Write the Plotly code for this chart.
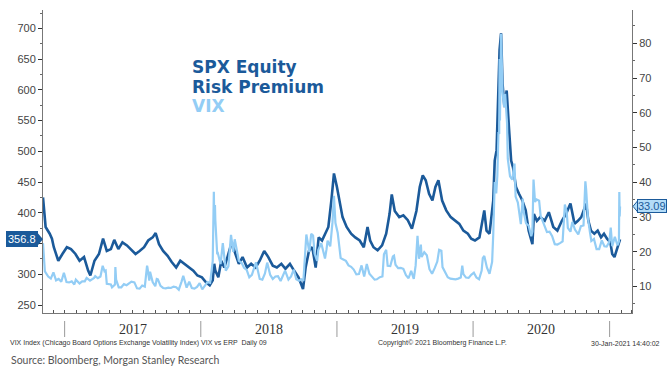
import plotly.graph_objects as go

# ---------------- DATA ----------------
erp_dates = [
    "2016-11-04", "2016-11-11", "2016-11-22", "2016-11-28", "2016-12-03", "2016-12-15", "2016-12-26",
    "2017-01-07", "2017-01-18", "2017-01-30", "2017-02-10", "2017-02-22", "2017-03-05", "2017-03-11",
    "2017-03-22", "2017-04-03", "2017-04-14", "2017-04-24", "2017-05-05", "2017-05-14", "2017-05-25",
    "2017-06-05", "2017-06-17", "2017-06-28", "2017-07-10", "2017-07-21", "2017-08-02", "2017-08-13",
    "2017-08-25", "2017-09-02", "2017-09-11", "2017-09-22", "2017-10-04", "2017-10-15", "2017-10-27",
    "2017-11-07", "2017-11-19", "2017-11-30", "2017-12-12", "2017-12-23", "2018-01-04", "2018-01-15",
    "2018-01-25", "2018-02-02", "2018-02-06", "2018-02-09", "2018-02-17", "2018-02-25", "2018-03-05",
    "2018-03-16", "2018-03-25", "2018-04-04", "2018-04-13", "2018-04-23", "2018-05-05", "2018-05-16",
    "2018-05-28", "2018-06-08", "2018-06-20", "2018-07-01", "2018-07-13", "2018-07-24", "2018-08-05",
    "2018-08-16", "2018-08-28", "2018-09-08", "2018-09-20", "2018-10-02", "2018-10-09", "2018-10-18",
    "2018-10-27", "2018-11-05", "2018-11-13", "2018-11-22", "2018-12-01", "2018-12-09", "2018-12-17",
    "2018-12-24", "2019-01-01", "2019-01-07", "2019-01-16", "2019-01-27", "2019-02-08", "2019-02-19",
    "2019-03-03", "2019-03-14", "2019-03-24", "2019-03-31", "2019-04-09", "2019-04-20", "2019-05-02",
    "2019-05-13", "2019-05-22", "2019-05-28", "2019-06-05", "2019-06-17", "2019-06-28", "2019-07-10",
    "2019-07-21", "2019-08-02", "2019-08-11", "2019-08-19", "2019-08-27", "2019-09-05", "2019-09-14",
    "2019-09-22", "2019-09-30", "2019-10-10", "2019-10-21", "2019-11-02", "2019-11-13", "2019-11-25",
    "2019-12-06", "2019-12-18", "2019-12-27", "2020-01-06", "2020-01-18", "2020-01-31", "2020-02-06",
    "2020-02-14", "2020-02-24", "2020-02-28", "2020-03-04", "2020-03-09", "2020-03-12", "2020-03-16",
    "2020-03-20", "2020-03-25", "2020-03-31", "2020-04-06", "2020-04-12", "2020-04-17", "2020-04-25",
    "2020-05-03", "2020-05-12", "2020-05-21", "2020-05-29", "2020-06-08", "2020-06-12", "2020-06-20",
    "2020-06-29", "2020-07-11", "2020-07-22", "2020-08-03", "2020-08-14", "2020-08-26", "2020-09-06",
    "2020-09-18", "2020-09-29", "2020-10-08", "2020-10-17", "2020-10-30", "2020-11-05", "2020-11-12",
    "2020-11-21", "2020-11-30", "2020-12-09", "2020-12-17", "2020-12-25", "2021-01-03", "2021-01-08",
    "2021-01-14", "2021-01-20", "2021-01-26", "2021-01-29",
]
erp_vals = [
    425, 377, 366, 358, 344, 322, 333,
    344, 341, 333, 322, 328, 306, 298,
    322, 333, 358, 338, 341, 356, 341,
    352, 347, 341, 333, 338, 344, 355,
    360, 367, 349, 338, 330, 320, 311,
    322, 317, 311, 306, 298, 295, 287,
    282, 290, 317, 306, 295, 322, 311,
    333, 352, 333, 317, 328, 311, 317,
    311, 322, 338, 328, 314, 311, 317,
    309, 317, 306, 295, 276, 311, 338,
    344, 311, 360, 355, 366, 377, 420,
    464, 442, 420, 393, 377, 366, 360,
    355, 344, 377, 355, 344, 339, 347,
    366, 398, 430, 403, 393, 396, 388,
    374, 403, 442, 461, 453, 431, 420,
    442, 453, 420, 404, 393, 387, 382,
    371, 366, 358, 355, 360, 404, 371,
    366, 420, 485, 502, 594, 665, 692,
    610, 572, 599, 540, 485, 474, 442,
    431, 420, 404, 371, 349, 398, 387,
    393, 387, 401, 377, 371, 387, 398,
    415, 382, 387, 393, 415, 387, 371,
    366, 371, 360, 366, 358, 352, 333,
    328, 339, 348, 356.8,
]

vix_dates = [
    "2016-11-04", "2016-11-07", "2016-11-09", "2016-11-18", "2016-11-25", "2016-12-02", "2016-12-09",
    "2016-12-16", "2016-12-23", "2016-12-30", "2017-01-06", "2017-01-13", "2017-01-20", "2017-01-27",
    "2017-01-31", "2017-02-10", "2017-02-17", "2017-02-24", "2017-03-01", "2017-03-10", "2017-03-21",
    "2017-03-24", "2017-03-31", "2017-04-07", "2017-04-13", "2017-04-18", "2017-04-21", "2017-04-24",
    "2017-05-05", "2017-05-08", "2017-05-16", "2017-05-17", "2017-05-19", "2017-05-26", "2017-06-02",
    "2017-06-09", "2017-06-16", "2017-06-29", "2017-07-07", "2017-07-14", "2017-07-21", "2017-07-28",
    "2017-08-04", "2017-08-10", "2017-08-11", "2017-08-16", "2017-08-18", "2017-08-25", "2017-09-01",
    "2017-09-05", "2017-09-08", "2017-09-15", "2017-09-22", "2017-09-29", "2017-10-06", "2017-10-13",
    "2017-10-20", "2017-10-27", "2017-11-03", "2017-11-10", "2017-11-15", "2017-11-24", "2017-12-01",
    "2017-12-08", "2017-12-15", "2017-12-22", "2017-12-29", "2018-01-05", "2018-01-12", "2018-01-19",
    "2018-01-26", "2018-02-02", "2018-02-05", "2018-02-06", "2018-02-08", "2018-02-09", "2018-02-14",
    "2018-02-16", "2018-02-23", "2018-03-01", "2018-03-09", "2018-03-16", "2018-03-23", "2018-03-29",
    "2018-04-02", "2018-04-06", "2018-04-13", "2018-04-20", "2018-04-27", "2018-05-04", "2018-05-11",
    "2018-05-18", "2018-05-29", "2018-06-08", "2018-06-15", "2018-06-22", "2018-06-28", "2018-07-06",
    "2018-07-13", "2018-07-20", "2018-07-27", "2018-08-03", "2018-08-10", "2018-08-15", "2018-08-24",
    "2018-08-31", "2018-09-07", "2018-09-14", "2018-09-21", "2018-09-28", "2018-10-03", "2018-10-10",
    "2018-10-11", "2018-10-19", "2018-10-24", "2018-10-29", "2018-11-02", "2018-11-09", "2018-11-12",
    "2018-11-20", "2018-11-30", "2018-12-04", "2018-12-07", "2018-12-14", "2018-12-20", "2018-12-24",
    "2018-12-28", "2019-01-03", "2019-01-11", "2019-01-18", "2019-01-25", "2019-02-01", "2019-02-08",
    "2019-02-15", "2019-02-22", "2019-03-01", "2019-03-08", "2019-03-15", "2019-03-22", "2019-03-29",
    "2019-04-05", "2019-04-12", "2019-04-18", "2019-04-26", "2019-05-03", "2019-05-07", "2019-05-13",
    "2019-05-17", "2019-05-24", "2019-05-31", "2019-06-03", "2019-06-07", "2019-06-14", "2019-06-21",
    "2019-06-28", "2019-07-05", "2019-07-12", "2019-07-19", "2019-07-26", "2019-07-31", "2019-08-05",
    "2019-08-09", "2019-08-14", "2019-08-16", "2019-08-23", "2019-08-30", "2019-09-06", "2019-09-13",
    "2019-09-20", "2019-09-27", "2019-10-02", "2019-10-08", "2019-10-11", "2019-10-18", "2019-10-25",
    "2019-11-01", "2019-11-08", "2019-11-15", "2019-11-22", "2019-11-29", "2019-12-03", "2019-12-06",
    "2019-12-13", "2019-12-20", "2019-12-27", "2019-12-31", "2020-01-03", "2020-01-10", "2020-01-17",
    "2020-01-24", "2020-01-27", "2020-01-31", "2020-02-07", "2020-02-14", "2020-02-21", "2020-02-24",
    "2020-02-25", "2020-02-27", "2020-02-28", "2020-03-03", "2020-03-06", "2020-03-09", "2020-03-11",
    "2020-03-12", "2020-03-13", "2020-03-16", "2020-03-18", "2020-03-20", "2020-03-24", "2020-03-27",
    "2020-04-01", "2020-04-03", "2020-04-09", "2020-04-15", "2020-04-21", "2020-04-24", "2020-04-30",
    "2020-05-08", "2020-05-13", "2020-05-15", "2020-05-22", "2020-05-29", "2020-06-05", "2020-06-08",
    "2020-06-11", "2020-06-15", "2020-06-19", "2020-06-26", "2020-06-30", "2020-07-10", "2020-07-17",
    "2020-07-24", "2020-07-31", "2020-08-07", "2020-08-14", "2020-08-21", "2020-08-28", "2020-09-03",
    "2020-09-08", "2020-09-11", "2020-09-18", "2020-09-23", "2020-09-30", "2020-10-09", "2020-10-16",
    "2020-10-23", "2020-10-28", "2020-10-30", "2020-11-04", "2020-11-09", "2020-11-13", "2020-11-20",
    "2020-11-27", "2020-12-04", "2020-12-11", "2020-12-18", "2020-12-24", "2020-12-31", "2021-01-04",
    "2021-01-08", "2021-01-15", "2021-01-22", "2021-01-26", "2021-01-27", "2021-01-28", "2021-01-29",
]
vix_vals = [
    22.5, 18.7, 14.4, 12.9, 12.3, 14.1, 11.8,
    12.2, 11.4, 14.0, 11.3, 11.2, 11.5, 10.6,
    12.0, 10.9, 11.5, 11.5, 12.5, 11.7, 12.5,
    13.0, 12.4, 12.9, 16.0, 14.4, 14.6, 10.8,
    10.6, 9.8, 10.6, 15.6, 12.0, 9.8, 9.8,
    10.7, 10.4, 11.4, 11.2, 9.5, 9.4, 10.3,
    10.0, 16.0, 15.5, 11.7, 14.3, 11.3, 10.1,
    12.2, 12.1, 10.2, 9.6, 9.5, 9.7, 9.6,
    10.0, 9.8, 9.1, 11.3, 13.1, 9.7, 11.4,
    9.6, 9.4, 9.9, 11.0, 9.2, 10.2, 11.3,
    11.1, 17.3, 37.3, 30.0, 33.5, 29.1, 19.3,
    19.5, 16.5, 22.5, 14.6, 15.8, 24.9, 20.0,
    23.6, 21.5, 17.4, 16.9, 15.4, 14.8, 12.7,
    13.4, 17.0, 12.2, 12.0, 13.8, 16.9, 13.4,
    12.2, 12.9, 13.0, 11.6, 13.2, 14.6, 12.0,
    12.9, 14.9, 12.1, 11.7, 12.1, 11.6, 23.0,
    25.0, 19.9, 25.2, 24.7, 19.5, 17.4, 20.5,
    22.5, 18.1, 20.7, 23.2, 21.6, 28.4, 36.1,
    28.3, 25.5, 18.2, 17.8, 17.4, 16.1, 15.7,
    14.9, 13.5, 13.6, 16.1, 12.9, 16.5, 13.7,
    12.8, 12.0, 12.1, 12.7, 12.9, 19.3, 20.6,
    16.0, 15.9, 18.7, 18.9, 16.3, 15.3, 15.4,
    15.1, 13.3, 12.4, 14.5, 12.2, 16.1, 24.6,
    18.0, 22.1, 18.5, 19.9, 19.0, 15.0, 13.7,
    15.3, 17.2, 20.6, 20.3, 15.6, 14.3, 12.7,
    12.3, 12.1, 12.1, 12.3, 12.6, 16.0, 13.6,
    12.6, 12.5, 13.4, 13.8, 14.0, 12.6, 12.1,
    14.6, 18.2, 18.8, 15.5, 13.7, 17.1, 25.0,
    27.9, 39.2, 40.1, 36.8, 41.9, 54.5, 53.9,
    75.5, 57.8, 82.7, 76.5, 66.0, 61.7, 65.5,
    57.1, 46.8, 41.7, 40.8, 45.4, 35.9, 34.2,
    28.0, 35.3, 31.9, 28.2, 27.5, 24.5, 25.8,
    40.8, 34.4, 35.1, 34.7, 30.4, 27.3, 25.7,
    25.8, 24.5, 22.2, 22.1, 22.5, 23.0, 33.6,
    31.5, 26.9, 25.8, 28.6, 26.4, 25.0, 27.4,
    27.6, 40.3, 38.0, 29.6, 25.8, 23.1, 23.7,
    20.8, 20.8, 23.3, 21.6, 21.5, 22.8, 27.0,
    21.6, 24.3, 21.9, 23.0, 37.2, 30.2, 33.09,
]

year_labels = ["2017", "2018", "2019", "2020"]
year_centers = ["2017-07-02", "2018-07-02", "2019-07-02", "2020-07-02"]
year_bounds = ["2017-01-01", "2018-01-01", "2019-01-01", "2020-01-01", "2021-01-01"]

left_ticks = [250, 300, 350, 400, 450, 500, 550, 600, 650, 700]
left_ticktext = ["250", "300", "", "400", "450", "500", "550", "600", "650", "700"]  # 350 hidden under value box
right_ticks = [10, 20, 30, 40, 50, 60, 70, 80]

# ---------------- STYLE ----------------
DARK = "#1b5a9a"
LIGHT = "#93cdf5"
FONT = "Liberation Sans"

fig = go.Figure()
fig.add_trace(go.Scatter(x=vix_dates, y=vix_vals, yaxis="y2", mode="lines",
                         line=dict(color=LIGHT, width=2.2), name="VIX", showlegend=False))
fig.add_trace(go.Scatter(x=erp_dates, y=erp_vals, yaxis="y", mode="lines",
                         line=dict(color=DARK, width=2.6), name="SPX Equity Risk Premium",
                         showlegend=False))

W, H = 670, 371
ml, mr, mt, mb = 43, 38, 10, 58
pw = W - ml - mr
ph = H - mt - mb
Y_RANGE = [237, 730]
Y2_RANGE = [2.4, 89.6]

def px_x(p):
    return (p - ml) / pw

def px_y(p):
    return (H - mb - p) / ph

annotations = []
# titles
for txt, yy, col in [("<b>SPX Equity</b>", 67, DARK), ("<b>Risk Premium</b>", 87, DARK),
                     ("<b>VIX</b>", 106, LIGHT)]:
    annotations.append(dict(text=txt, xref="paper", yref="paper",
                            x=px_x(190), y=px_y(yy), xanchor="left", yanchor="middle",
                            showarrow=False, font=dict(family="DejaVu Sans", size=17, color=col)))
# year labels
for lab, c in zip(year_labels, year_centers):
    annotations.append(dict(text=lab, xref="x", yref="paper", x=c, y=px_y(330),
                            xanchor="center", yanchor="middle", showarrow=False,
                            font=dict(family="Liberation Serif", size=14, color="#333")))
# footers
annotations.append(dict(text="VIX Index (Chicago Board Options Exchange Volatility Index) VIX vs ERP  Daily 09",
                        xref="paper", yref="paper", x=px_x(8), y=px_y(343), xanchor="left",
                        yanchor="middle", showarrow=False,
                        font=dict(family=FONT, size=7, color="#333")))
annotations.append(dict(text="Copyright© 2021 Bloomberg Finance L.P.",
                        xref="paper", yref="paper", x=px_x(442), y=px_y(343), xanchor="center",
                        yanchor="middle", showarrow=False,
                        font=dict(family=FONT, size=7, color="#333")))
annotations.append(dict(text="30-Jan-2021 14:40:02",
                        xref="paper", yref="paper", x=px_x(662), y=px_y(343), xanchor="right",
                        yanchor="middle", showarrow=False,
                        font=dict(family=FONT, size=7, color="#333")))
annotations.append(dict(text="Source: Bloomberg, Morgan Stanley Research",
                        xref="paper", yref="paper", x=px_x(9), y=px_y(360), xanchor="left",
                        yanchor="middle", showarrow=False,
                        font=dict(family="Lato", size=10.5, color="#555")))
# last value boxes
annotations.append(dict(text=f"{erp_vals[-1]:.1f}", xref="paper", yref="y",
                        x=px_x(38), y=erp_vals[-1], xanchor="right", yanchor="middle",
                        showarrow=False, bgcolor=DARK, bordercolor=DARK, borderpad=1,
                        font=dict(family=FONT, size=11, color="white")))
annotations.append(dict(text=f"{vix_vals[-1]:.2f}", xref="paper", yref="y2",
                        x=px_x(637), y=vix_vals[-1], xanchor="left", yanchor="middle",
                        showarrow=False, bgcolor="#b3dcf8", bordercolor=DARK, borderwidth=1,
                        borderpad=0, font=dict(family=FONT, size=11, color=DARK)))

shapes = []
for b in year_bounds:
    shapes.append(dict(type="line", xref="x", yref="paper", x0=b, x1=b,
                       y0=px_y(321), y1=px_y(337), line=dict(color="#9a9a9a", width=1)))

# pointers of the value boxes
lv_px = (H - mb) - (erp_vals[-1] - Y_RANGE[0]) / (Y_RANGE[1] - Y_RANGE[0]) * ph
shapes.append(dict(type="path", xref="paper", yref="paper",
                   path=f"M {px_x(37)},{px_y(lv_px - 7)} L {px_x(43)},{px_y(lv_px)} L {px_x(37)},{px_y(lv_px + 7)} Z",
                   fillcolor=DARK, line=dict(width=0)))
rv_px = (H - mb) - (vix_vals[-1] - Y2_RANGE[0]) / (Y2_RANGE[1] - Y2_RANGE[0]) * ph
shapes.append(dict(type="path", xref="paper", yref="paper",
                   path=f"M {px_x(638)},{px_y(rv_px - 6)} L {px_x(633)},{px_y(rv_px)} L {px_x(638)},{px_y(rv_px + 6)} Z",
                   fillcolor="#b3dcf8", line=dict(width=1, color=DARK)))

fig.update_layout(
    width=W, height=H,
    margin=dict(l=ml, r=mr, t=mt, b=mb),
    paper_bgcolor="white", plot_bgcolor="white",
    font=dict(family=FONT, size=11, color="#333"),
    hovermode=False,
    xaxis=dict(type="date", range=["2016-11-04", "2021-03-02"], showgrid=False, zeroline=False,
               showline=True, linecolor="#777", linewidth=1,
               tickvals=year_centers, ticktext=[""] * 4, ticks="",
               minor=dict(dtick="M1", tick0="2016-11-01", ticks="inside", ticklen=3,
                          tickcolor="#555", showgrid=False)),
    yaxis=dict(range=Y_RANGE, tickvals=left_ticks, ticktext=left_ticktext, showgrid=False,
               zeroline=False, showline=True, linecolor="#777", linewidth=1, ticks="outside",
               ticklen=4, tickcolor="#333", tickfont=dict(size=11, color="#444"),
               minor=dict(dtick=25, tick0=0, ticks="outside", ticklen=2, tickcolor="#666")),
    yaxis2=dict(range=Y2_RANGE, tickvals=right_ticks, overlaying="y", side="right",
                showgrid=False, zeroline=False, showline=True, linecolor="#777", linewidth=1,
                ticks="outside", ticklen=4, tickcolor="#333", tickfont=dict(size=11, color="#444"),
                minor=dict(dtick=5, tick0=0, ticks="outside", ticklen=2, tickcolor="#666")),
    annotations=annotations,
    shapes=shapes,
)

fig.write_html("out.html", config={"displayModeBar": False},
               post_script="document.body.style.margin='0';")
